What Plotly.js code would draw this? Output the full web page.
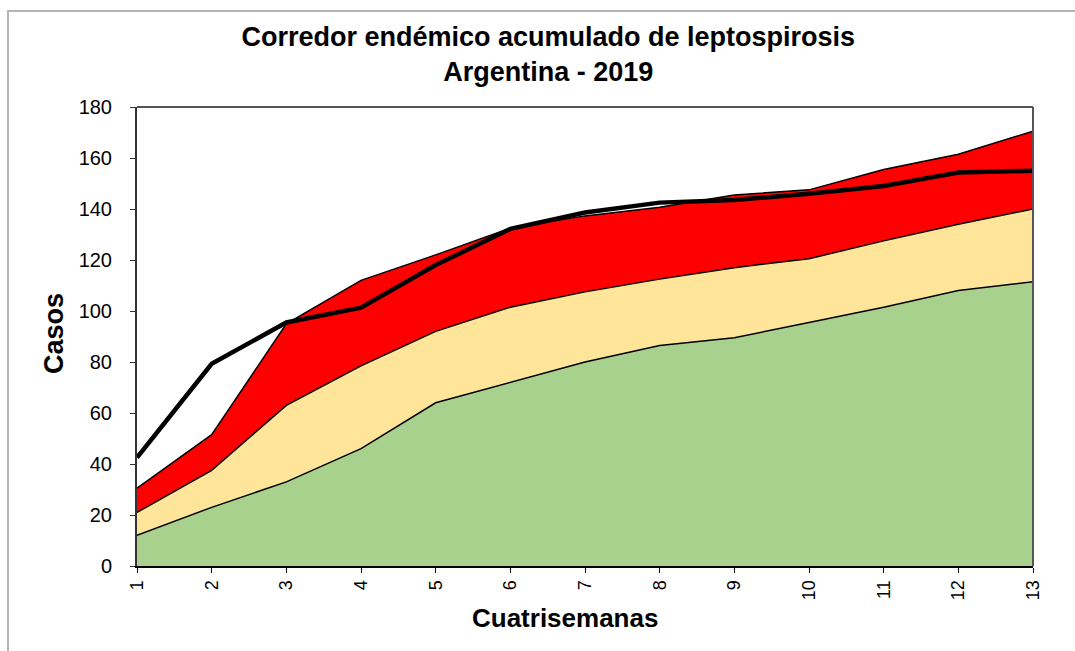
<!DOCTYPE html>
<html>
<head>
<meta charset="utf-8">
<script src="https://cdn.plot.ly/plotly-3.0.1.min.js"></script>
<style>
html,body{margin:0;padding:0;background:#fff;}
#frame{position:absolute;left:7px;top:10px;width:1075px;height:660px;border-top:2px solid #b4b4b4;border-left:2px solid #b4b4b4;box-sizing:border-box;pointer-events:none;z-index:5;}
#chart{position:absolute;left:0;top:0;width:1075px;height:651px;}
</style>
</head>
<body>
<div id="chart"></div>
<div id="frame"></div>
<script>
const cuatrisemanas = [1,2,3,4,5,6,7,8,9,10,11,12,13];
const tickLabels = ['1','2','3','4','5','6','7','8','9','10','11','12','13'];
const zonaExito = [12, 23, 33, 46, 64, 72, 80, 86.5, 89.5, 95.5, 101.5, 108, 111.5];
const zonaSeguridad = [21, 37.5, 63, 78.5, 92, 101.5, 107.5, 112.5, 117, 120.5, 127.5, 134, 140];
const zonaAlerta = [30.5, 51.5, 95, 112, 122, 132.5, 137.3, 140.7, 145.5, 147.5, 155.5, 161.5, 170.5];
const casos2019 = [42.5, 79.3, 95.5, 101.3, 118, 132.2, 138.6, 142.5, 143.5, 146, 149, 154.3, 155];

const FONT = 'Liberation Sans, Arial, sans-serif';

const traces = [
  {x: cuatrisemanas, y: zonaExito, name: 'Zona de éxito', type: 'scatter', mode: 'lines',
   fill: 'tozeroy', fillcolor: '#a9d18e', line: {color: '#000', width: 1.5}},
  {x: cuatrisemanas, y: zonaSeguridad, name: 'Zona de seguridad', type: 'scatter', mode: 'lines',
   fill: 'tonexty', fillcolor: '#fee599', line: {color: '#000', width: 1.5}},
  {x: cuatrisemanas, y: zonaAlerta, name: 'Zona de alerta', type: 'scatter', mode: 'lines',
   fill: 'tonexty', fillcolor: '#ff0000', line: {color: '#000', width: 1.5}},
  {x: cuatrisemanas, y: casos2019, name: 'Casos 2019', type: 'scatter', mode: 'lines',
   line: {color: '#000', width: 4.5}}
];

const layout = {
  width: 1075, height: 651,
  margin: {l: 137, r: 42, t: 107, b: 85},
  paper_bgcolor: '#fff', plot_bgcolor: '#fff',
  showlegend: false,
  font: {family: FONT, color: '#000'},
  title: {
    text: '<b>Corredor endémico acumulado de leptospirosis<br>Argentina - 2019</b>',
    font: {family: FONT, size: 27, color: '#000'},
    xref: 'container', x: 0.51, xanchor: 'center',
    yref: 'container', y: 0.93, yanchor: 'top'
  },
  xaxis: {
    range: [1, 13], tickvals: cuatrisemanas, ticktext: tickLabels,
    tickangle: -90, tickfont: {family: FONT, size: 18, color: '#000'},
    ticks: 'outside', ticklen: 5, tickcolor: '#000',
    showgrid: false, zeroline: false,
    showline: true, linecolor: '#000', linewidth: 2, mirror: false
  },
  yaxis: {
    range: [0, 180], dtick: 20,
    tickfont: {family: FONT, size: 20, color: '#000'},
    ticks: 'outside', ticklen: 5, tickcolor: '#333',
    ticklabelstandoff: 14,
    showgrid: false, zeroline: false,
    showline: true, linecolor: '#333', linewidth: 2, mirror: false
  },
  shapes: [
    {type: 'line', xref: 'paper', yref: 'paper', x0: 0, x1: 1, y0: 1, y1: 1, line: {color: '#555', width: 2}},
    {type: 'line', xref: 'paper', yref: 'paper', x0: 1, x1: 1, y0: 0, y1: 1, line: {color: '#555', width: 2}}
  ],
  annotations: [
    {text: '<b>Casos</b>', xref: 'paper', yref: 'paper', x: (54 - 137) / 896, y: (566 - 334) / 459,
     xanchor: 'center', yanchor: 'middle', textangle: -90, showarrow: false,
     font: {family: FONT, size: 27, color: '#000'}},
    {text: '<b>Cuatrisemanas</b>', xref: 'paper', yref: 'paper', x: (565 - 137) / 896, y: (566 - 618) / 459,
     xanchor: 'center', yanchor: 'middle', showarrow: false,
     font: {family: FONT, size: 26, color: '#000'}}
  ]
};

Plotly.newPlot('chart', traces, layout, {displayModeBar: false, staticPlot: true});
</script>
</body>
</html>
